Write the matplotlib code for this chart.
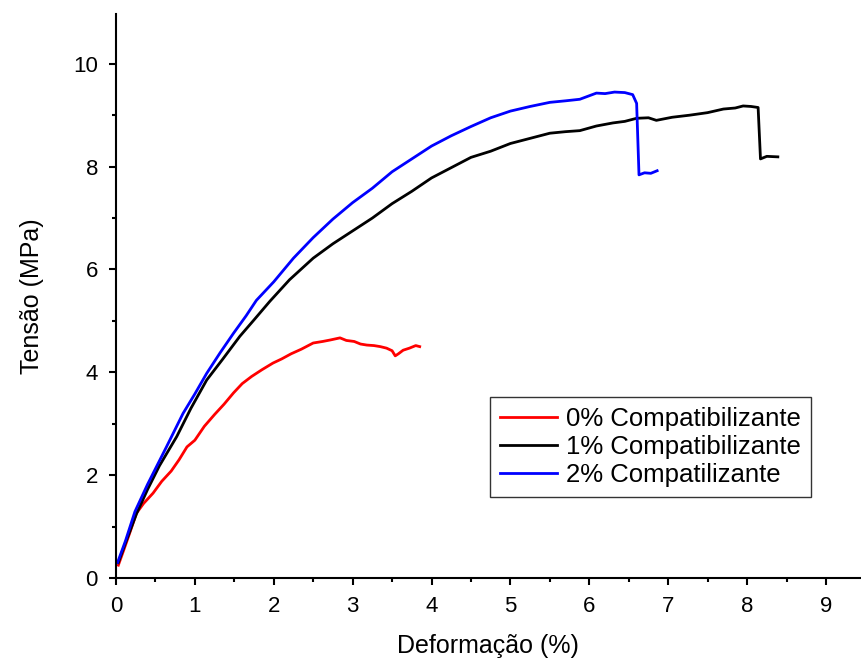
import numpy as np
import matplotlib.pyplot as plt
from matplotlib.ticker import MultipleLocator

plt.rcParams['font.family'] = ['Liberation Sans', 'DejaVu Sans']

# ---- dados ----
x0 = [0.03, 0.10, 0.18, 0.26, 0.35, 0.47, 0.58, 0.70, 0.80, 0.90, 1.00, 1.12,
      1.25, 1.37, 1.49, 1.60, 1.72, 1.85, 1.99, 2.10, 2.22, 2.35, 2.50, 2.62,
      2.72, 2.84, 2.92, 3.02, 3.10, 3.18, 3.27, 3.35, 3.43, 3.50, 3.54, 3.58,
      3.64, 3.72, 3.80, 3.85]
y0 = [0.25, 0.55, 0.90, 1.26, 1.45, 1.65, 1.88, 2.08, 2.30, 2.55, 2.68, 2.95,
      3.18, 3.38, 3.60, 3.78, 3.92, 4.05, 4.18, 4.26, 4.36, 4.45, 4.57, 4.60,
      4.63, 4.67, 4.62, 4.60, 4.55, 4.53, 4.52, 4.50, 4.47, 4.42, 4.32, 4.36,
      4.43, 4.47, 4.52, 4.50]

x1 = [0.03, 0.12, 0.26, 0.40, 0.55, 0.77, 0.95, 1.15, 1.35, 1.57, 1.75, 1.95,
      2.20, 2.50, 2.75, 3.00, 3.25, 3.50, 3.75, 4.00, 4.25, 4.50, 4.75, 5.00,
      5.25, 5.50, 5.70, 5.88, 6.09, 6.30, 6.45, 6.60, 6.75, 6.85, 7.05, 7.27,
      7.50, 7.70, 7.85, 7.95, 8.05, 8.14, 8.17, 8.25, 8.39]
y1 = [0.30, 0.68, 1.25, 1.72, 2.18, 2.75, 3.30, 3.85, 4.25, 4.70, 5.02, 5.38,
      5.80, 6.22, 6.50, 6.75, 7.00, 7.28, 7.52, 7.78, 7.98, 8.18, 8.30, 8.45,
      8.55, 8.65, 8.68, 8.70, 8.79, 8.85, 8.88, 8.94, 8.95, 8.90, 8.96, 9.00,
      9.05, 9.12, 9.14, 9.18, 9.17, 9.15, 8.15, 8.20, 8.19]

x2 = [0.02, 0.12, 0.24, 0.40, 0.64, 0.85, 1.00, 1.15, 1.32, 1.49, 1.65, 1.78,
      2.00, 2.25, 2.50, 2.75, 3.00, 3.25, 3.50, 3.75, 4.00, 4.25, 4.50, 4.75,
      5.00, 5.25, 5.50, 5.70, 5.88, 6.09, 6.20, 6.32, 6.45, 6.55, 6.60, 6.63,
      6.70, 6.78, 6.86]
y2 = [0.30, 0.72, 1.29, 1.82, 2.55, 3.20, 3.58, 3.98, 4.38, 4.76, 5.10, 5.40,
      5.76, 6.22, 6.62, 6.98, 7.30, 7.58, 7.90, 8.15, 8.40, 8.60, 8.78, 8.95,
      9.08, 9.17, 9.25, 9.28, 9.31, 9.43, 9.42, 9.45, 9.44, 9.40, 9.23, 7.84,
      7.88, 7.87, 7.92]

fig = plt.figure(figsize=(8.61, 6.59), dpi=100)
ax = fig.add_axes([0.1347, 0.1229, 0.864, 0.856])

ax.plot(x0, y0, color='#ff0000', lw=2, label='0% Compatibilizante')
ax.plot(x1, y1, color='#000000', lw=2, label='1% Compatibilizante')
ax.plot(x2, y2, color='#0000ff', lw=2, label='2% Compatilizante')

ax.set_xlim(0, 9.43)
ax.set_ylim(0, 10.97)
ax.xaxis.set_major_locator(MultipleLocator(1))
ax.xaxis.set_minor_locator(MultipleLocator(0.5))
ax.yaxis.set_major_locator(MultipleLocator(2))
ax.yaxis.set_minor_locator(MultipleLocator(1))

for s in ['top', 'right']:
    ax.spines[s].set_visible(False)
for s in ['left', 'bottom']:
    ax.spines[s].set_linewidth(1.5)

ax.tick_params(which='major', direction='out', length=5, width=1.5,
               labelsize=16, pad=8)
ax.tick_params(which='minor', direction='out', length=3, width=1.5)

ax.set_xlabel('Deformação (%)', fontsize=18, labelpad=12)
ax.set_ylabel('Tensão (MPa)', fontsize=18, labelpad=21)

leg = ax.legend(loc='upper left', bbox_to_anchor=(0.503, 0.321), fontsize=18.5,
                frameon=True, fancybox=False, handlelength=2.2,
                handletextpad=0.35, borderpad=0.4, labelspacing=0.15,
                borderaxespad=0)
leg.get_frame().set_edgecolor('black')
leg.get_frame().set_linewidth(1.0)

plt.savefig('out.png', dpi=100)
